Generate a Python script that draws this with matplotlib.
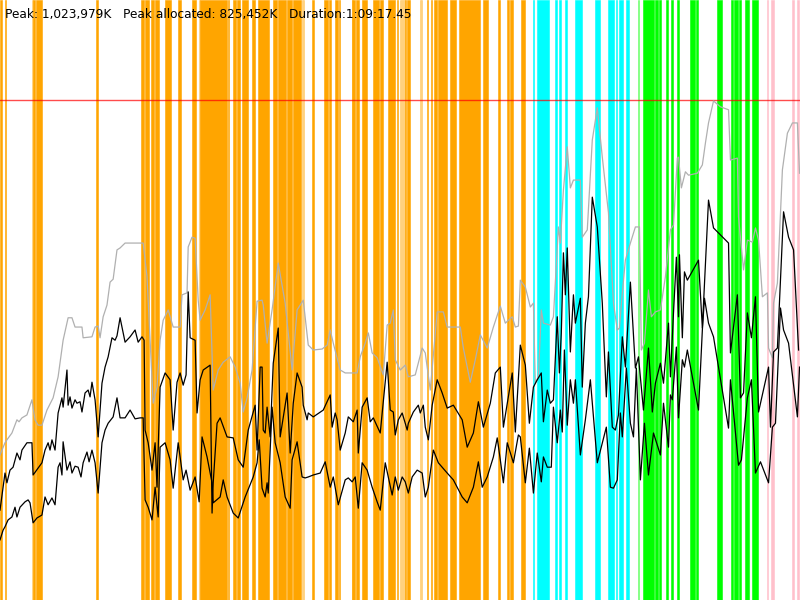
import matplotlib
matplotlib.use("Agg")
import matplotlib.pyplot as plt

# run summary
peak_k = 1023979
peak_alloc_k = 825452
duration_s = 4157.45
summary = "Peak: 1,023,979K   Peak allocated: 825,452K   Duration:1:09:17.45"

# heap size over time (seconds, MB)
heap_t = [0, 26, 36, 62, 88, 99, 114, 140, 166, 182, 198, 218, 244, 276, 302, 328, 354, 374, 390, 426,
          432, 478, 494, 510, 520, 536, 556, 572, 588, 608, 624, 650, 744, 764, 780, 796, 816, 832, 848, 874,
          900, 936, 946, 972, 978, 998, 1014, 1030, 1040, 1066, 1092, 1108, 1134, 1160, 1196, 1222, 1248, 1264, 1284, 1310,
          1336, 1362, 1368, 1388, 1414, 1446, 1482, 1518, 1544, 1576, 1602, 1628, 1674, 1700, 1716, 1732, 1768, 1794, 1856, 1872,
          1898, 1914, 1934, 1960, 1992, 2012, 2028, 2044, 2054, 2080, 2106, 2122, 2158, 2194, 2210, 2236, 2252, 2272, 2304, 2324,
          2392, 2408, 2444, 2470, 2496, 2532, 2564, 2600, 2626, 2662, 2678, 2694, 2704, 2730, 2756, 2772, 2782, 2798, 2813, 2824,
          2860, 2876, 2902, 2912, 2928, 2948, 2964, 2980, 3016, 3026, 3052, 3078, 3104, 3130, 3162, 3188, 3208, 3219, 3234, 3250,
          3276, 3302, 3323, 3333, 3349, 3370, 3385, 3406, 3432, 3458, 3484, 3500, 3520, 3526, 3541, 3562, 3578, 3624, 3650, 3666,
          3682, 3708, 3744, 3786, 3796, 3832, 3838, 3864, 3884, 3910, 3926, 3942, 3962, 3988, 3994, 4014, 4020, 4040, 4066, 4092,
          4118, 4144, 4155]
heap_mb = [297, 322, 328, 342, 369, 365, 373, 379, 410, 369, 358, 358, 389, 414, 457, 532, 578, 578, 559, 559,
           537, 539, 559, 561, 537, 580, 604, 651, 657, 717, 721, 731, 731, 662, 532, 403, 436, 532, 573, 594,
           559, 559, 625, 629, 723, 743, 741, 614, 573, 594, 625, 430, 471, 487, 498, 477, 444, 385, 414, 471,
           612, 614, 604, 526, 594, 690, 608, 471, 594, 614, 522, 512, 514, 522, 553, 526, 471, 465, 465, 498,
           526, 547, 506, 496, 461, 563, 567, 594, 492, 471, 481, 457, 461, 516, 506, 430, 502, 590, 590, 559,
           559, 516, 446, 492, 543, 516, 559, 602, 567, 580, 559, 561, 655, 641, 600, 608, 444, 457, 594, 567,
           563, 580, 764, 731, 840, 928, 844, 860, 860, 743, 758, 942, 1008, 907, 793, 608, 553, 557, 629, 696,
           731, 764, 764, 512, 526, 635, 580, 590, 594, 662, 758, 768, 905, 907, 844, 877, 870, 874, 891, 936,
           977, 1022, 1010, 1004, 901, 905, 784, 676, 737, 733, 762, 737, 621, 629, 516, 496, 608, 649, 881, 956,
           977, 977, 874]

# used memory before collection
used_hi_t = [0, 26, 36, 52, 68, 88, 104, 114, 140, 166, 172, 218, 234, 250, 260, 270, 286, 302, 322, 328,
             348, 354, 364, 374, 390, 400, 416, 426, 442, 458, 468, 478, 494, 510, 530, 546, 562, 582, 598, 608,
             624, 650, 676, 702, 718, 738, 749, 754, 770, 790, 806, 816, 832, 858, 884, 900, 920, 936, 952, 967,
             978, 988, 1014, 1024, 1040, 1056, 1092, 1102, 1108, 1128, 1144, 1180, 1212, 1238, 1264, 1290, 1326, 1336, 1352, 1362,
             1368, 1378, 1388, 1404, 1420, 1446, 1456, 1492, 1508, 1524, 1544, 1570, 1576, 1596, 1602, 1628, 1680, 1716, 1726, 1742,
             1752, 1768, 1794, 1810, 1836, 1856, 1862, 1882, 1908, 1924, 1940, 1976, 2012, 2028, 2044, 2054, 2070, 2090, 2106, 2116,
             2122, 2148, 2174, 2184, 2200, 2210, 2226, 2246, 2272, 2298, 2324, 2356, 2402, 2428, 2460, 2486, 2512, 2548, 2574, 2600,
             2616, 2662, 2678, 2704, 2730, 2751, 2772, 2792, 2813, 2824, 2844, 2860, 2876, 2896, 2907, 2917, 2928, 2938, 2948, 2964,
             2980, 2990, 3016, 3026, 3042, 3058, 3078, 3104, 3130, 3151, 3162, 3182, 3198, 3214, 3234, 3250, 3276, 3302, 3318, 3344,
             3370, 3390, 3406, 3432, 3448, 3474, 3484, 3500, 3515, 3526, 3531, 3546, 3557, 3572, 3630, 3650, 3682, 3708, 3786, 3796,
             3832, 3848, 3864, 3884, 3905, 3926, 3942, 3994, 4004, 4020, 4040, 4072, 4098, 4124, 4150]
used_hi_mb = [184, 260, 240, 266, 272, 301, 287, 307, 322, 322, 256, 281, 307, 322, 307, 328, 307, 383, 414, 395,
              471, 399, 416, 393, 410, 403, 406, 385, 424, 430, 416, 446, 410, 334, 444, 477, 498, 537, 532, 541,
              578, 528, 539, 553, 528, 539, 532, 348, 322, 266, 322, 231, 436, 465, 451, 348, 446, 465, 440, 461,
              631, 537, 532, 383, 451, 471, 481, 178, 240, 362, 373, 334, 332, 287, 272, 348, 399, 307, 477, 477,
              348, 342, 395, 334, 485, 557, 334, 424, 301, 403, 465, 436, 399, 369, 383, 375, 389, 420, 354, 383,
              369, 307, 342, 375, 365, 389, 301, 395, 414, 365, 373, 342, 487, 389, 385, 338, 369, 383, 362, 348,
              362, 385, 399, 383, 399, 354, 328, 399, 451, 424, 393, 399, 369, 313, 342, 406, 354, 403, 465, 477,
              354, 465, 344, 522, 481, 362, 436, 451, 465, 365, 430, 403, 410, 580, 465, 547, 711, 625, 721, 508,
              625, 567, 618, 436, 567, 621, 825, 764, 608, 416, 508, 354, 348, 379, 539, 477, 651, 475, 498, 389,
              516, 385, 444, 485, 444, 567, 457, 588, 702, 580, 707, 537, 672, 655, 696, 557, 819, 762, 731, 506,
              625, 414, 424, 588, 537, 621, 385, 477, 354, 508, 516, 795, 743, 717, 512]

# used memory after collection
used_lo_t = [0, 16, 26, 42, 62, 78, 88, 104, 130, 146, 156, 172, 192, 218, 234, 250, 270, 286, 302, 312,
             322, 328, 348, 364, 374, 390, 406, 421, 432, 452, 463, 478, 494, 510, 530, 546, 562, 588, 608, 624,
             650, 676, 702, 728, 744, 754, 770, 790, 806, 822, 832, 858, 884, 900, 926, 952, 967, 988, 1014, 1035,
             1050, 1076, 1102, 1108, 1144, 1160, 1180, 1212, 1238, 1274, 1316, 1336, 1347, 1362, 1378, 1388, 1394, 1414, 1430, 1456,
             1482, 1508, 1518, 1544, 1570, 1586, 1602, 1628, 1664, 1690, 1716, 1732, 1758, 1794, 1810, 1830, 1846, 1862, 1882, 1908,
             1934, 1960, 1976, 2002, 2018, 2038, 2054, 2070, 2090, 2106, 2122, 2142, 2168, 2194, 2210, 2226, 2252, 2278, 2324, 2356,
             2402, 2428, 2460, 2486, 2506, 2532, 2564, 2584, 2600, 2616, 2636, 2668, 2694, 2704, 2730, 2751, 2772, 2792, 2813, 2824,
             2844, 2865, 2876, 2896, 2912, 2922, 2933, 2948, 2964, 2980, 2990, 3016, 3042, 3068, 3104, 3151, 3172, 3188, 3208, 3224,
             3234, 3255, 3276, 3292, 3307, 3328, 3349, 3370, 3396, 3432, 3448, 3474, 3484, 3494, 3515, 3526, 3546, 3557, 3572, 3630,
             3650, 3661, 3682, 3708, 3786, 3796, 3838, 3853, 3884, 3905, 3926, 3952, 3994, 4014, 4030, 4056, 4072, 4098, 4144, 4155]
used_lo_mb = [123, 143, 150, 164, 170, 190, 170, 190, 201, 205, 199, 158, 168, 174, 211, 195, 209, 195, 272, 281,
              256, 324, 266, 283, 260, 274, 272, 252, 281, 303, 283, 307, 281, 219, 322, 348, 362, 375, 414, 373,
              373, 389, 371, 373, 373, 205, 190, 164, 231, 170, 313, 322, 287, 229, 322, 246, 266, 225, 252, 201,
              334, 293, 240, 199, 211, 246, 211, 178, 168, 211, 252, 281, 328, 229, 211, 240, 219, 395, 322, 281,
              211, 188, 287, 324, 252, 250, 252, 256, 260, 283, 231, 252, 195, 246, 250, 242, 252, 188, 281, 266,
              231, 201, 184, 281, 252, 215, 252, 225, 252, 242, 219, 252, 266, 260, 211, 231, 307, 281, 260, 246,
              211, 199, 231, 283, 231, 252, 293, 332, 287, 240, 322, 281, 338, 334, 240, 311, 219, 301, 242, 293,
              272, 272, 395, 322, 389, 344, 512, 358, 451, 403, 451, 297, 369, 451, 281, 354, 231, 229, 246, 383,
              334, 475, 362, 334, 475, 246, 362, 256, 342, 297, 403, 313, 420, 410, 518, 373, 492, 477, 512, 389,
              553, 618, 567, 539, 352, 451, 276, 287, 414, 451, 260, 283, 240, 354, 362, 598, 553, 526, 375, 477]

# collection events (start, end) in seconds
orange_events = [(0, 10), (26, 31), (171, 182), (187, 218), (499, 509), (733, 748), (754, 774), (785, 800),
                 (806, 826), (857, 889), (925, 941), (998, 1019), (1039, 1180), (1185, 1190), (1211, 1226),
                 (1232, 1247), (1258, 1289), (1310, 1325), (1341, 1398), (1419, 1440), (1445, 1486), (1492, 1518),
                 (1523, 1564), (1621, 1632), (1684, 1705), (1710, 1720), (1741, 1757), (1762, 1767), (1829, 1845),
                 (1850, 1866), (1881, 1907), (1938, 1970), (1975, 1990), (2016, 2053), (2063, 2068), (2105, 2110),
                 (2115, 2131), (2219, 2224), (2240, 2245), (2256, 2271), (2276, 2323), (2339, 2370), (2385, 2495),
                 (2510, 2536), (2588, 2599), (2635, 2645), (2650, 2666), (2708, 2728)]
light_orange_events = [(166, 171), (1034, 1039), (1570, 1580), (1829, 1834), (2079, 2105), (2183, 2193)]
cyan_events = [(2770, 2775), (2791, 2853), (2884, 2895), (2905, 2916), (2936, 2947), (2988, 3025),
               (3092, 3118), (3160, 3191), (3201, 3207), (3217, 3238), (3253, 3269)]
green_events = [(3342, 3399), (3404, 3420), (3425, 3435), (3461, 3472), (3487, 3498), (3518, 3529),
                (3586, 3612), (3617, 3628), (3726, 3752), (3799, 3809), (3815, 3835), (3841, 3851),
                (3872, 3893), (3908, 3939)]
light_green_events = [(3316, 3321)]
pink_events = [(3986, 3991), (4007, 4022), (4116, 4126), (4142, 4152)]

fig = plt.figure(figsize=(8, 6), dpi=100)
ax = fig.add_axes([0, 0, 1, 1])

for events, col, a in [(orange_events, "#ffa500", 1.0), (light_orange_events, "#ffa500", 0.5),
                       (cyan_events, "#00ffff", 1.0), (green_events, "#00ff00", 1.0),
                       (light_green_events, "#00ff00", 0.5), (pink_events, "#ffc0cb", 1.0)]:
    for s, e in events:
        ax.axvspan(s, e, color=col, alpha=a, lw=0.4, zorder=1)

ax.axhline(peak_k / 1000, color="red", lw=1, alpha=0.7, zorder=2)
ax.plot(heap_t, heap_mb, color="#b0b0b0", lw=0.9, zorder=3)
ax.plot(used_hi_t, used_hi_mb, color="black", lw=0.9, zorder=4)
ax.plot(used_lo_t, used_lo_mb, color="black", lw=0.9, zorder=4)

ax.text(0.006, 0.987, summary, transform=ax.transAxes, fontsize=8.7,
        family="DejaVu Sans", va="top", ha="left", zorder=5)

ax.set_xlim(0, duration_s)
ax.set_ylim(0, peak_k / 1000 * 1.2)
ax.axis("off")

fig.savefig("out.png", dpi=100)
